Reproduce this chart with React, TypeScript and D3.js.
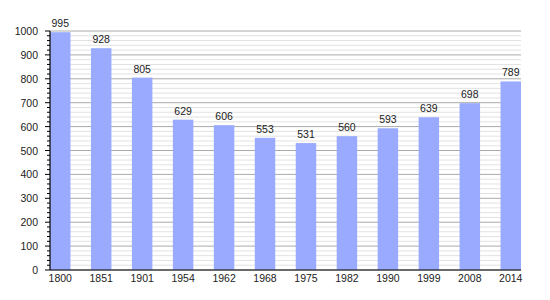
import React from "react";
import * as d3 from "d3";

const years = ["1800","1851","1901","1954","1962","1968","1975","1982","1990","1999","2008","2014"];
const population = [995,928,805,629,606,553,531,560,593,639,698,789];
const majorTicks = [0,100,200,300,400,500,600,700,800,900,1000];

export default function App() {
  const W = 550, H = 300;
  const left = 50, right = 521, top = 31, bottom = 270;
  const x = d3.scaleBand<string>().domain(years).range([left, right]).paddingInner(0.5).paddingOuter(0).align(0);
  const y = d3.scaleLinear().domain([0, 1000]).range([bottom, top]);
  const minor = d3.range(0, 1001, 20).filter(v => v % 100 !== 0);
  const font = "Liberation Sans, Arial, sans-serif";
  return (
    <svg width={W} height={H} style={{ position: "absolute", left: 0, top: 0 }} fontFamily={font}>
      <rect x={0} y={0} width={W} height={H} fill="#fff" />
      {minor.map(v => (
        <line key={"m" + v} x1={left} x2={right} y1={y(v)} y2={y(v)} stroke="#e2e2e2" strokeWidth={1} />
      ))}
      {majorTicks.map(v => (
        <line key={"g" + v} x1={left} x2={right} y1={y(v)} y2={y(v)} stroke="#aaaaaa" strokeWidth={1} />
      ))}
      {years.map((yr, i) => (
        <rect key={yr} x={x(yr)!} y={y(population[i])} width={x.bandwidth()} height={bottom - y(population[i])} fill="#99aaff" />
      ))}
      {years.map((yr, i) => (
        <text key={"l" + yr} x={x(yr)! + x.bandwidth() / 2} y={y(population[i]) - 5} textAnchor="middle" fontSize={10.5} fill="#222">{population[i]}</text>
      ))}
      <line x1={left} x2={left} y1={top} y2={bottom} stroke="#000" strokeWidth={1.2} />
      <line x1={left} x2={right} y1={bottom} y2={bottom} stroke="#000" strokeWidth={1.2} />
      {minor.map(v => (
        <line key={"t" + v} x1={left - 3} x2={left} y1={y(v)} y2={y(v)} stroke="#000" strokeWidth={1} />
      ))}
      {majorTicks.map(v => (
        <g key={"k" + v}>
          <line x1={left - 5} x2={left} y1={y(v)} y2={y(v)} stroke="#000" strokeWidth={1} />
          <text x={left - 12} y={y(v) + 4} textAnchor="end" fontSize={10.5} fill="#222">{v}</text>
        </g>
      ))}
      {years.map(yr => (
        <text key={"x" + yr} x={x(yr)! + x.bandwidth() / 2} y={bottom + 12} textAnchor="middle" fontSize={10.5} fill="#222">{yr}</text>
      ))}
    </svg>
  );
}
